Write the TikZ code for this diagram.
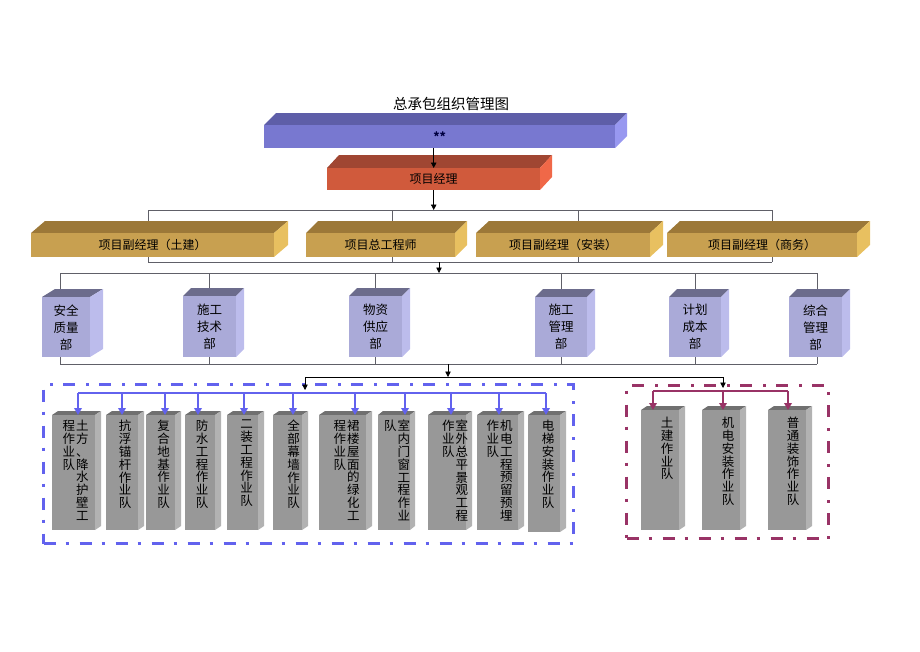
\documentclass[tikz,border=0pt]{standalone}
\usepackage{fontspec}
\setmainfont{Noto Sans CJK SC}
\usetikzlibrary{arrows.meta}
\definecolor{purfront}{HTML}{7878D0}\definecolor{purtop}{HTML}{5E5EA8}\definecolor{purside}{HTML}{9898F0}
\definecolor{redfront}{HTML}{D05A3C}\definecolor{redtop}{HTML}{A04632}\definecolor{redside}{HTML}{F06848}
\definecolor{goldfront}{HTML}{C8A050}\definecolor{goldtop}{HTML}{9C7838}\definecolor{goldside}{HTML}{E8C060}
\definecolor{depfront}{HTML}{AAAAD8}\definecolor{deptop}{HTML}{6C6C8C}\definecolor{depside}{HTML}{BCBCEC}
\definecolor{grayfront}{HTML}{989898}\definecolor{graytop}{HTML}{707070}\definecolor{grayside}{HTML}{B2B2B2}
\definecolor{linegrey}{HTML}{606068}
\definecolor{busblue}{HTML}{6262EE}
\definecolor{maroon}{HTML}{993366}
\pgfdeclarelayer{bg}\pgfsetlayers{bg,main}
\tikzset{
  purfont/.style={font=\fontsize{12}{12}\selectfont\bfseries, text=black!75!blue},
  redfont/.style={font=\fontsize{12}{14}\selectfont},
  goldfont/.style={font=\fontsize{12}{14}\selectfont},
  depfont/.style={font=\fontsize{12.5}{17}\selectfont},
  grayfont/.style={font=\fontsize{12}{12}\selectfont},
  coltext/.style={font=\fontsize{12.5}{12.8}\selectfont, inner sep=0pt, anchor=north},
  bracket/.style={draw=linegrey, line width=0.9pt},
  blackarr/.style={draw=black, line width=0.8pt, -{Triangle[length=5.5pt,width=5.5pt]}},
  bluebus/.style={draw=busblue, line width=2.2pt},
  bluearr/.style={draw=busblue, line width=2.2pt, -{Triangle[length=7pt,width=7.5pt]}},
  marbus/.style={draw=maroon, line width=2.2pt},
  mararr/.style={draw=maroon, line width=2.2pt, -{Triangle[length=7pt,width=7.5pt]}},
  bluedash/.style={draw=busblue, line width=3pt, dash pattern=on 12pt off 10pt on 3pt off 11pt},
  mardash/.style={draw=maroon, line width=3pt, dash pattern=on 12pt off 10pt on 3pt off 11pt},
}
% name, x1, y1, x2, y2, dx, dy, colour set, text
\newcommand\cub[9]{%
  \fill[#8top] (#2,#3) -- (#2+#6,#3-#7) -- (#4+#6,#3-#7) -- (#4,#3) -- cycle;
  \fill[#8side] (#4,#3) -- (#4+#6,#3-#7) -- (#4+#6,#5-#7) -- (#4,#5) -- cycle;
  \node[fill=#8front, #8font, align=center, inner sep=0pt, minimum width={(#4-#2)*1pt},
        minimum height={(#5-#3)*1pt}, anchor=north west] (#1) at (#2,#3) {#9};
}
\newcommand\onecol[1]{\parbox[t]{13pt}{\centering #1}}
\newcommand\twocol[2]{\parbox[t]{13pt}{\centering #1}\hspace{0.5pt}\parbox[t]{13pt}{\centering #2}}
\begin{document}
\begin{tikzpicture}[x=1pt,y=-1pt]
\useasboundingbox (0,0) rectangle (920,651);
\node[font=\fontsize{14.5}{16}\selectfont] (title) at (451,104) {总承包组织管理图};

\cub{top}{264}{125}{615}{148}{12}{12}{pur}{\raisebox{-3pt}{**}}
\cub{pm}{327}{168}{540}{190}{12}{13}{red}{项目经理}

\cub{g1}{31}{233}{274}{257}{14}{12}{gold}{项目副经理（土建）}
\cub{g2}{306}{233}{455}{257}{12}{12}{gold}{项目总工程师}
\cub{g3}{476}{233}{650}{257}{13}{12}{gold}{项目副经理（安装）}
\cub{g4}{667}{233}{857}{257}{13}{12}{gold}{项目副经理（商务）}

\cub{d1}{42}{297}{90}{357}{13}{8}{dep}{安全\\质量\\部}
\cub{d2}{183}{296}{236}{357}{8}{8}{dep}{施工\\技术\\部}
\cub{d3}{349}{296}{402}{357}{8}{8}{dep}{物资\\供应\\部}
\cub{d4}{535}{297}{587}{357}{8}{8}{dep}{施工\\管理\\部}
\cub{d5}{669}{297}{721}{357}{8}{8}{dep}{计划\\成本\\部}
\cub{d6}{789}{297}{842}{357}{8}{8}{dep}{综合\\管理\\部}

\cub{b1}{52}{415}{95}{530}{6}{4}{gray}{}
\cub{b2}{106}{415}{138}{530}{6}{4}{gray}{}
\cub{b3}{146}{415}{175}{530}{6}{4}{gray}{}
\cub{b4}{185}{415}{215}{530}{6}{4}{gray}{}
\cub{b5}{227}{415}{258}{530}{6}{4}{gray}{}
\cub{b6}{273}{415}{302}{530}{6}{4}{gray}{}
\cub{b7}{319}{415}{366}{530}{6}{4}{gray}{}
\cub{b8}{378}{415}{410}{530}{5}{4}{gray}{}
\cub{b9}{428}{415}{466}{530}{6}{4}{gray}{}
\cub{b10}{477}{415}{518}{530}{6}{4}{gray}{}
\cub{b11}{528}{415}{560}{532}{6}{4}{gray}{}
\cub{m1}{641}{410}{679}{530}{6}{4}{gray}{}
\cub{m2}{702}{410}{740}{530}{6}{4}{gray}{}
\cub{m3}{768}{410}{806}{530}{6}{4}{gray}{}

\node[coltext] (b1t) at ([xshift=2pt,yshift=-5pt]b1.north) {\twocol{程\\作\\业\\队}{土\\方\\、\\降\\水\\护\\壁\\工}};
\node[coltext] (b2t) at ([xshift=3pt,yshift=-5pt]b2.north) {\onecol{抗\\浮\\锚\\杆\\作\\业\\队}};
\node[coltext] (b3t) at ([xshift=3pt,yshift=-5pt]b3.north) {\onecol{复\\合\\地\\基\\作\\业\\队}};
\node[coltext] (b4t) at ([xshift=2pt,yshift=-5pt]b4.north) {\onecol{防\\水\\工\\程\\作\\业\\队}};
\node[coltext] (b5t) at ([xshift=4pt,yshift=-5pt]b5.north) {\onecol{二\\装\\工\\程\\作\\业\\队}};
\node[coltext] (b6t) at ([xshift=6pt,yshift=-5pt]b6.north) {\onecol{全\\部\\幕\\墙\\作\\业\\队}};
\node[coltext] (b7t) at ([xshift=4pt,yshift=-5pt]b7.north) {\twocol{程\\作\\业\\队}{裙\\楼\\屋\\面\\的\\绿\\化\\工}};
\node[coltext] (b8t) at ([xshift=3pt,yshift=-5pt]b8.north) {\twocol{队}{室\\内\\门\\窗\\工\\程\\作\\业}};
\node[coltext] (b9t) at ([xshift=8pt,yshift=-5pt]b9.north) {\twocol{作\\业\\队}{室\\外\\总\\平\\景\\观\\工\\程}};
\node[coltext] (b10t) at ([xshift=2pt,yshift=-5pt]b10.north) {\twocol{作\\业\\队}{机\\电\\工\\程\\预\\留\\预\\埋}};
\node[coltext] (b11t) at ([xshift=4pt,yshift=-5pt]b11.north) {\onecol{电\\梯\\安\\装\\作\\业\\队}};
\node[coltext] (m1t) at ([xshift=7pt,yshift=-7pt]m1.north) {\onecol{土\\建\\作\\业\\队}};
\node[coltext] (m2t) at ([xshift=7pt,yshift=-7pt]m2.north) {\onecol{机\\电\\安\\装\\作\\业\\队}};
\node[coltext] (m3t) at ([xshift=6pt,yshift=-7pt]m3.north) {\onecol{普\\通\\装\\饰\\作\\业\\队}};

% dash-dot frames
\node[bluedash, inner sep=0pt, minimum width=530pt, minimum height=159pt, anchor=north west] (bframe) at (42,383) {};
\node[mardash, inner sep=0pt, minimum width=202pt, minimum height=153pt, anchor=north west] (mframe) at (625,384) {};

% bracket coordinates
\coordinate (gtl) at (148,210); \coordinate (gtr) at (772,210);
\coordinate (gbl) at (148,262); \coordinate (gbr) at (772,262);
\coordinate (gt2) at (392,210); \coordinate (gt3) at (578,210);
\coordinate (gb2) at (392,262); \coordinate (gb3) at (578,262);
\coordinate (dtl) at (60,273); \coordinate (dtr) at (817,273);
\coordinate (dbl) at (60,364); \coordinate (dbr) at (817,364);
\coordinate (kl) at (305,377); \coordinate (kr) at (723,377);
\coordinate (gmid) at (439,262); \coordinate (dtop) at (439,273);
\coordinate (dmid) at (448,364); \coordinate (kmid) at (448,377);

\begin{pgfonlayer}{bg}
  \draw[bracket] (gtl) -- (gtr);
  \draw[bracket] (gbl) -- (gbr);
  \draw[bracket] (gtl) -- (gbl);
  \draw[bracket] (gtr) -- (gbr);
  \draw[bracket] (gt2) -- (gt2 |- g2.center);
  \draw[bracket] (gt3) -- (gt3 |- g3.center);
  \draw[bracket] (gb2) -- (gb2 |- g2.center);
  \draw[bracket] (gb3) -- (gb3 |- g3.center);
  \draw[bracket] (dtl) -- (dtr);
  \draw[bracket] (dbl) -- (dbr);
  \draw[bracket] (dtl) -- (dbl);
  \draw[bracket] (dtr) -- (dbr);
  \foreach \n in {d2,d3,d4,d5} {\draw[bracket] (\n.center |- dtl) -- (\n.center |- dbl);}
\end{pgfonlayer}

% black arrows
\draw[blackarr] (pm.north |- top.south) -- (pm.north);
\draw[blackarr] (pm.south) -- (pm.south |- gtl);
\draw[blackarr] (gmid) -- (dtop);
\draw[blackarr] (dmid) -- (kmid);
\draw[draw=black, line width=0.8pt] (kl) -- (kr);
\coordinate (bbl) at (78,393); \coordinate (bbr) at (546,393);
\coordinate (mbl) at (653,391); \coordinate (mbr) at (788,391);
\draw[blackarr] (kl) -- ([yshift=3pt]kl |- bbl);
\draw[blackarr] (kr) -- ([yshift=3pt]kr |- mbl);

% blue bus
\draw[bluebus] (bbl) -- (bbr);
\foreach \x/\n in {78/b1,122/b2,165/b3,198/b4,244/b5,293/b6,355/b7,405/b8,451/b9,499/b10,546/b11}
  {\draw[bluearr] (\x,393) -- (\x,393 |- \n.north);}
% maroon bus
\draw[marbus] (mbl) -- (mbr);
\foreach \x/\n in {653/m1,723/m2,788/m3}
  {\draw[mararr] (\x,391) -- (\x,391 |- \n.north);}
\end{tikzpicture}
\end{document}
